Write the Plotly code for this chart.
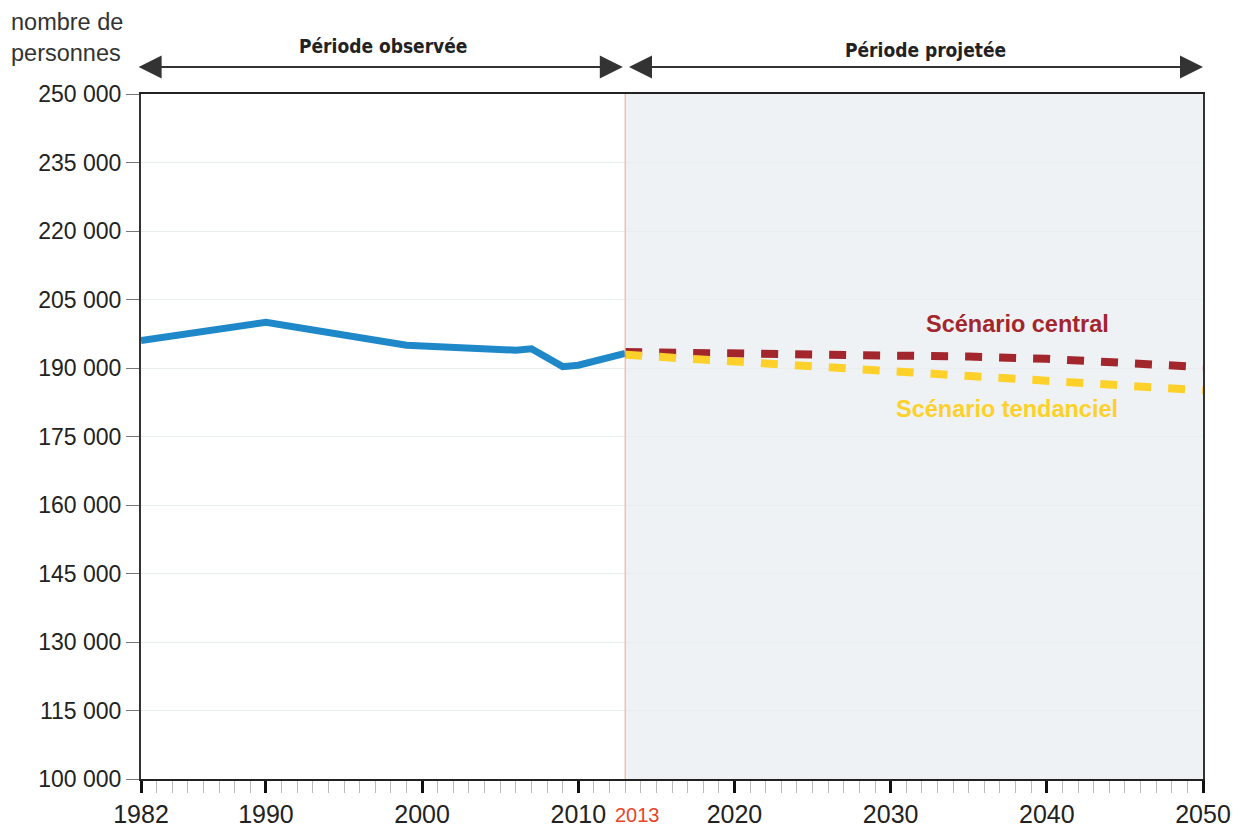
import plotly.graph_objects as go

# ---- data ----
years_obs = [1982, 1990, 1999, 2006, 2007, 2009, 2010, 2011, 2012, 2013]
pop_obs = [196000, 200000, 195000, 193900, 194200, 190300, 190600, 191500, 192500, 193200]

years_proj = [2013, 2020, 2025, 2030, 2035, 2040, 2045, 2050]
pop_central = [193500, 193300, 193100, 192900, 192500, 192000, 191300, 190200]
pop_tendanciel = [192900, 191500, 190400, 189400, 188500, 187500, 186400, 185100]

x_major_ticks = [1982, 1990, 2000, 2010, 2020, 2030, 2040, 2050]
y_ticks = list(range(100000, 250001, 15000))
proj_start = 2013

FONT = "Liberation Sans, Arial, sans-serif"
HEAD_FONT = "DejaVu Sans Condensed, Liberation Sans, sans-serif"
BLUE = "#1f88c9"
RED = "#a3262d"
YELLOW = "#fdd12a"

fig = go.Figure()

fig.add_trace(go.Scatter(x=years_proj, y=pop_central, mode="lines",
                         line=dict(color=RED, width=8, dash="17px,17px"),
                         showlegend=False, hoverinfo="skip"))
fig.add_trace(go.Scatter(x=years_proj, y=pop_tendanciel, mode="lines",
                         line=dict(color=YELLOW, width=8, dash="17px,17px"),
                         showlegend=False, hoverinfo="skip"))
fig.add_trace(go.Scatter(x=years_obs, y=pop_obs, mode="lines",
                         line=dict(color=BLUE, width=7),
                         showlegend=False, hoverinfo="skip"))

# shaded projection period
fig.add_shape(type="rect", xref="x", yref="paper", x0=proj_start, x1=2050, y0=0, y1=1,
              fillcolor="#eff2f4", line=dict(width=0), layer="below")
fig.add_shape(type="line", xref="x", yref="paper", x0=proj_start, x1=proj_start, y0=0, y1=1,
              line=dict(color="#f0a592", width=1), layer="above")

fig.update_xaxes(range=[1982, 2050], tickvals=x_major_ticks, ticks="outside",
                 ticklen=12, tickwidth=3, tickcolor="#111",
                 minor=dict(dtick=1, tick0=1982, ticks="outside", ticklen=12,
                            tickwidth=1, tickcolor="#bbbbbb", showgrid=False),
                 showgrid=False, showline=True, linecolor="#222", linewidth=2, mirror=True,
                 tickfont=dict(family=FONT, size=25, color="#222"), zeroline=False)
fig.update_yaxes(range=[100000, 250000], tickvals=y_ticks, tickformat=",d",
                 ticks="outside", ticklen=13, tickwidth=1, tickcolor="#777",
                 showgrid=True, gridcolor="#e8edef", gridwidth=1,
                 showline=True, linecolor="#333", linewidth=2, mirror=True,
                 tickfont=dict(family=FONT, size=23, color="#222"), zeroline=False)

ann = []
# header label
ann.append(dict(text="nombre de<br>personnes", xref="paper", yref="paper", x=-0.1234, y=1.1255,
                xanchor="left", yanchor="top", align="left", showarrow=False, borderpad=0,
                font=dict(family=FONT, size=23.5, color="#333")))
# period titles
ann.append(dict(text="<b>Période observée</b>", xref="x", yref="paper", x=1997.5, y=1.07,
                yanchor="middle", showarrow=False, font=dict(family=HEAD_FONT, size=19, color="#222")))
ann.append(dict(text="<b>Période projetée</b>", xref="x", yref="paper", x=2032.2, y=1.064,
                yanchor="middle", showarrow=False, font=dict(family=HEAD_FONT, size=19, color="#222")))
# arrows
for x_tip, x_tail in [(2012.85, 1981.75), (2050, 2013.15)]:
    ann.append(dict(x=x_tip, y=1.0394, xref="x", yref="paper", ax=x_tail, ay=0, axref="x", ayref="pixel",
                    text="", showarrow=True, arrowhead=2, arrowside="end+start",
                    arrowsize=2.3, arrowwidth=2, arrowcolor="#333"))
# 2013 red label
ann.append(dict(text="2013", xref="x", yref="paper", x=proj_start + 0.8, y=-0.0525,
                showarrow=False, yanchor="middle", borderpad=0,
                font=dict(family=FONT, size=20, color="#e8442a")))
# scenario labels
ann.append(dict(text="<b>Scénario central</b>", xref="x", yref="y", x=2038.15, y=199600,
                showarrow=False, font=dict(family=FONT, size=23.5, color=RED)))
ann.append(dict(text="<b>Scénario tendanciel</b>", xref="x", yref="y", x=2037.45, y=181000,
                showarrow=False, font=dict(family=FONT, size=23.5, color=YELLOW)))

# page body has an 8px margin: size the figure so the plot area lands where the reference has it
fig.update_layout(width=1235, height=819, separators=", ",
                  margin=dict(l=133, r=40, t=86, b=48, autoexpand=False),
                  paper_bgcolor="white", plot_bgcolor="white",
                  annotations=ann, showlegend=False)

fig.write_html("out.html")
